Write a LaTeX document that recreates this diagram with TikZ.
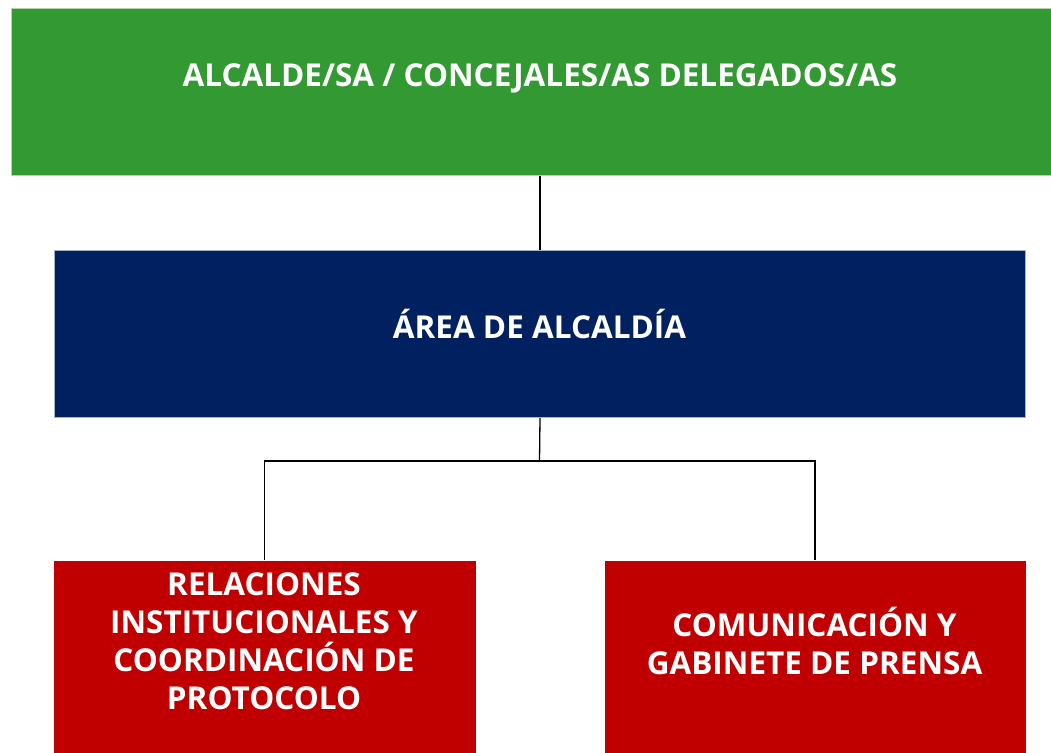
\documentclass[tikz,border=0pt]{standalone}
\usepackage{fontspec}
\setmainfont{Open Sans}
\definecolor{topgreen}{HTML}{339933}
\definecolor{areablue}{HTML}{002060}
\definecolor{unitred}{HTML}{C00000}
\begin{document}
\begin{tikzpicture}[x=1pt,y=-1pt,
  box/.style={rectangle, inner sep=0pt, anchor=north west, line width=1pt},
  lbl/.style={text=white, font=\bfseries\fontsize{31.5}{38}\selectfont, align=center, inner sep=0pt},
  conn/.style={draw=black, line width=1.3pt}]
\useasboundingbox (0,0) rectangle (1051,752);
\node[box, fill=topgreen, draw=topgreen!40!white, minimum width=1040pt, minimum height=167pt] (top) at (11,8) {};
\node[box, fill=areablue, draw=areablue!35!white, minimum width=971pt, minimum height=167pt] (area) at (54,250) {};
\node[box, fill=unitred, minimum width=422pt, minimum height=192pt] (rel) at (53,560) {};
\node[box, fill=unitred, minimum width=421pt, minimum height=192pt] (com) at (604,560) {};
\node[lbl] (toptxt) at (540,78) {ALCALDE/SA / CONCEJALES/AS DELEGADOS/AS};
\node[lbl] (areatxt) at (539.5,324) {ÁREA DE ALCALDÍA};
\node[lbl] (reltxt) at (264,641) {RELACIONES\\INSTITUCIONALES Y\\COORDINACIÓN DE\\PROTOCOLO};
\node[lbl] (comtxt) at (814.5,641) {COMUNICACIÓN Y\\GABINETE DE PRENSA};
\coordinate (j) at (539.5,461);
\draw[conn] (area.north |- top.south) -- (area.north);
\draw[conn] (area.south) -- (j);
\draw[conn] (rel.north) |- (com.north |- j) -- (com.north);
\end{tikzpicture}
\end{document}
